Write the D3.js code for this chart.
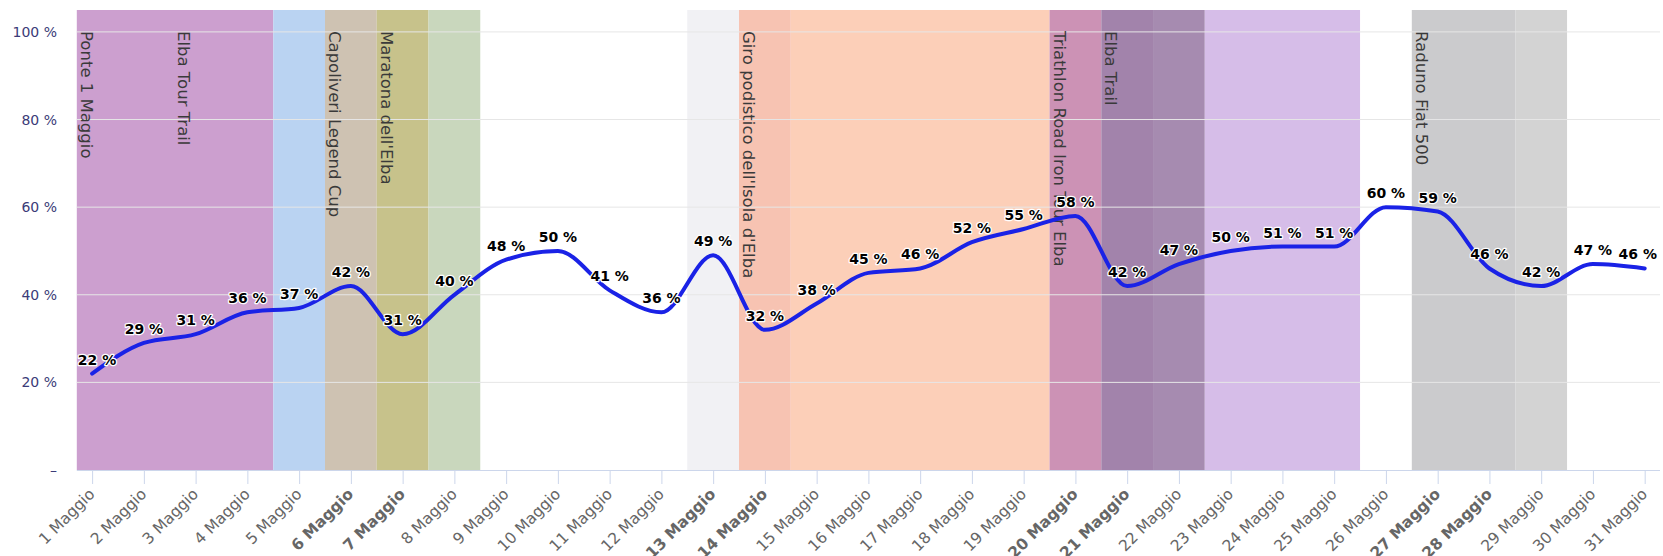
<!DOCTYPE html>
<html><head><meta charset="utf-8">
<script src="https://cdn.jsdelivr.net/npm/d3@7"></script>
<style>body{margin:0;background:#fff;} svg{display:block;font-family:"DejaVu Sans",sans-serif;}</style>
</head><body><svg id="chart" width="1663" height="556"></svg>
<script>
const days = d3.range(1, 32);
const dayLabels = days.map(d => d + " Maggio");
const boldDays = [6, 7, 13, 14, 20, 21, 27, 28];
const occupancy = [22,29,31,36,37,42,31,40,48,50,41,36,49,32,38,45,46,52,55,58,42,47,50,51,51,60,59,46,42,47,46];
const yTicks = [0, 20, 40, 60, 80, 100];
const yTickLabels = ["–", "20 %", "40 %", "60 %", "80 %", "100 %"];
const bandFrom = [0.5, 4.5, 5.5, 6.5, 7.5, 12.5, 13.5, 14.5, 19.5, 20.5, 21.5, 22.5, 26.5, 28.5];
const bandTo   = [4.5, 5.5, 6.5, 7.5, 8.5, 13.5, 14.5, 19.5, 20.5, 21.5, 22.5, 25.5, 28.5, 29.5];
const bandColors = ["#cc9fcf","#bad3f2","#cec2b2","#c7c28b","#c9d7bd","#f1f1f4","#f7c3b2","#fccfb8","#cc92b5","#a283ab","#a68bb0","#d6bde8","#cbcbcd","#d3d3d3"];
const eventNames = ["Ponte 1 Maggio","Elba Tour Trail","Capoliveri Legend Cup","Maratona dell'Elba","Giro podistico dell'Isola d'Elba","Triathlon Road Iron Tour Elba","Elba Trail","Raduno Fiat 500"];
const eventStart = [0.5, 2.58, 5.5, 6.5, 13.5, 19.5, 20.5, 26.5];

const svg = d3.select("#chart");
const L = 76.8, R = 1660, T = 10, B = 470;
const x = d3.scaleLinear().domain([0.704, 31.296]).range([L, R]);
const y = d3.scaleLinear().domain([0, 105]).range([B, T]);

// bands
svg.append("g").selectAll("rect").data(bandFrom.map((f, i) => ({f, t: bandTo[i], c: bandColors[i]})))
  .join("rect")
  .attr("x", d => Math.max(L, x(d.f)))
  .attr("width", d => Math.min(R, x(d.t)) - Math.max(L, x(d.f)))
  .attr("y", T).attr("height", B - T)
  .attr("fill", d => d.c);

// grid
svg.append("g").selectAll("line").data(yTicks.filter(v => v > 0)).join("line")
  .attr("x1", L).attr("x2", R).attr("y1", d => y(d)).attr("y2", d => y(d))
  .attr("stroke", "#e6e6e6").attr("stroke-width", 1);

// x axis
const xAxis = d3.axisBottom(x).tickValues(days).tickSize(14).tickFormat((d, i) => dayLabels[i]);
const gx = svg.append("g").attr("transform", `translate(0,${B})`).call(xAxis);
gx.select(".domain").attr("d", `M${L},0.5H${R}`).attr("stroke", "#ccd6eb");
gx.selectAll(".tick line").attr("stroke", "#ccd6eb");
gx.selectAll(".tick text")
  .attr("font-size", 15.5).attr("fill", "#666")
  .attr("font-family", "DejaVu Sans, sans-serif")
  .attr("font-weight", d => boldDays.includes(d) ? "bold" : "normal")
  .attr("text-anchor", "end")
  .attr("dy", null).attr("y", 0)
  .attr("transform", "translate(3,25) rotate(-45)");

// y labels
svg.append("g").selectAll("text").data(yTicks).join("text")
  .attr("x", 57).attr("y", d => y(d) + 5)
  .attr("text-anchor", "end").attr("font-size", 14)
  .attr("fill", "#3b3b78")
  .text((d, i) => yTickLabels[i]);

// band labels
svg.append("g").selectAll("text").data(eventNames).join("text")
  .attr("transform", (d, i) => `translate(${Math.max(L, x(eventStart[i])) + 4},31) rotate(90)`)
  .attr("font-size", 16.5).attr("fill", "#3a3a3a")
  .text(d => d);

// line
const pts = days.map((d, i) => ({d, v: occupancy[i]}));
svg.append("path").datum(pts)
  .attr("d", d3.line().x(p => x(p.d)).y(p => y(p.v)).curve(d3.curveMonotoneX))
  .attr("fill", "none").attr("stroke", "#1a22e6").attr("stroke-width", 4)
  .attr("stroke-linejoin", "round").attr("stroke-linecap", "round");

// data labels
const dl = svg.append("g").selectAll("text").data(pts).join("text")
  .attr("x", p => x(p.d)).attr("y", p => y(p.v) - 9)
  .attr("text-anchor", "middle").attr("font-size", 14).attr("font-weight", "bold")
  .attr("fill", "#000").attr("stroke", "#fff").attr("stroke-width", 2.5)
  .attr("stroke-linejoin", "round").attr("paint-order", "stroke")
  .text(p => p.v + " %");
dl.each(function(p) {
  const w = this.getComputedTextLength();
  let cx = x(p.d);
  if (cx - w / 2 < L + 1) cx = L + 1 + w / 2;
  if (cx + w / 2 > R - 3) cx = R - 3 - w / 2;
  d3.select(this).attr("x", cx);
});
</script></body></html>
